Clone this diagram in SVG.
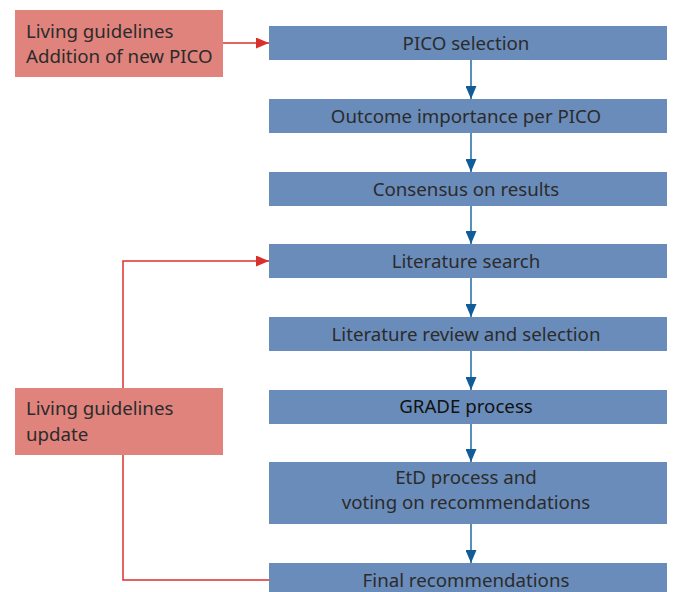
<svg xmlns="http://www.w3.org/2000/svg" width="673" height="592" viewBox="0 0 673 592">
<style>
.b{fill:#6a8cba}
.p{fill:#e0837d}
text{font-family:"Noto Sans","Open Sans",sans-serif;font-size:18.7px;fill:#2b2b2b}
.c{text-anchor:middle}
.bl{stroke:#1f6aa5;stroke-width:1.5;fill:none}
.rd{stroke:#d9302c;stroke-width:1.5;fill:none}
</style>
<defs>
<marker id="ab" markerWidth="13" markerHeight="11" refX="13" refY="5.5" orient="auto" markerUnits="userSpaceOnUse"><path d="M0,0 L13,5.5 L0,11 Z" fill="#0f5c99"/></marker>
<marker id="ar" markerWidth="13" markerHeight="11" refX="13" refY="5.5" orient="auto" markerUnits="userSpaceOnUse"><path d="M0,0 L13,5.5 L0,11 Z" fill="#d9302c"/></marker>
</defs>
<g id="connectors">
<path class="bl" d="M471,60 V99" marker-end="url(#ab)"/>
<path class="bl" d="M471,133 V172" marker-end="url(#ab)"/>
<path class="bl" d="M471,206 V244" marker-end="url(#ab)"/>
<path class="bl" d="M471,278 V317" marker-end="url(#ab)"/>
<path class="bl" d="M471,351 V390" marker-end="url(#ab)"/>
<path class="bl" d="M471,424 V462" marker-end="url(#ab)"/>
<path class="bl" d="M471,524 V563" marker-end="url(#ab)"/>
<path class="rd" d="M223,43 H269" marker-end="url(#ar)"/>
<path class="rd" d="M123,388 V261 H269" marker-end="url(#ar)"/>
<path class="rd" d="M123,455 V580 H269"/>
</g>
<g id="n1"><rect class="b" x="269" y="26" width="398" height="34"/><text class="c" x="466" y="50">PICO selection</text></g>
<g id="n2"><rect class="b" x="269" y="99" width="398" height="34"/><text class="c" x="466" y="123">Outcome importance per PICO</text></g>
<g id="n3"><rect class="b" x="269" y="172" width="398" height="34"/><text class="c" x="466" y="196">Consensus on results</text></g>
<g id="n4"><rect class="b" x="269" y="244" width="398" height="34"/><text class="c" x="466" y="268">Literature search</text></g>
<g id="n5"><rect class="b" x="269" y="317" width="398" height="34"/><text class="c" x="466" y="341">Literature review and selection</text></g>
<g id="n6"><rect class="b" x="269" y="390" width="398" height="34"/><text class="c" x="466" y="413" style="fill:#111">GRADE process</text></g>
<g id="n7"><rect class="b" x="269" y="462" width="398" height="62"/><text class="c" x="466" y="484">EtD process and</text><text class="c" x="466" y="509">voting on recommendations</text></g>
<g id="n8"><rect class="b" x="269" y="563" width="398" height="29"/><text class="c" x="466" y="587">Final recommendations</text></g>
<g id="p1"><rect class="p" x="15" y="10" width="208" height="67"/><text x="26" y="38">Living guidelines</text><text x="26" y="63">Addition of new PICO</text></g>
<g id="p2"><rect class="p" x="15" y="388" width="208" height="67"/><text x="26" y="415">Living guidelines</text><text x="26" y="441">update</text></g>
</svg>
